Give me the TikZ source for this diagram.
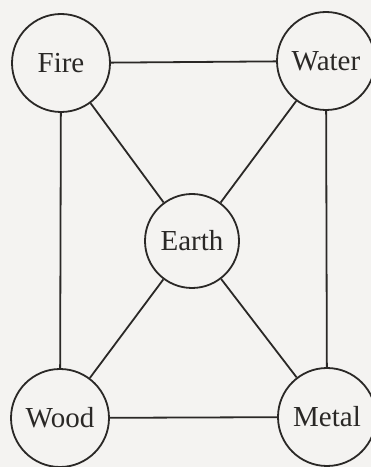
\documentclass[tikz,border=0pt]{standalone}
\usepackage{fontspec}
\setmainfont{Liberation Serif}
\newfontfamily\elfont{Liberation Serif}
\definecolor{bg}{HTML}{F4F3F1}
\definecolor{ink}{HTML}{2A2826}
\begin{document}
\begin{tikzpicture}[x=1pt,y=1pt,
  el/.style={circle, draw=ink, fill=bg, line width=1.8pt, minimum size=98pt, inner sep=0pt,
    font=\fontsize{29}{32}\selectfont\elfont, text=ink},
  link/.style={draw=ink, line width=1.8pt}]
\useasboundingbox (0,0) rectangle (371,467);
\clip (0,0) rectangle (371,467);
\fill[bg] (0,0) rectangle (371,467);
\node[el] (fire)  at (61,404) {Fire};
\node[el] (water) at (326,406) {Water};
\node[el, minimum size=94pt] (earth) at (192,226) {Earth};
\node[el] (wood)  at (60,49) {Wood};
\node[el] (metal) at (327,50) {Metal};
\draw[link] (fire) -- (water);
\draw[link] (fire) -- (wood);
\draw[link] (water) -- (metal);
\draw[link] (wood) -- (metal);
\draw[link] (fire) -- (earth);
\draw[link] (water) -- (earth);
\draw[link] (wood) -- (earth);
\draw[link] (metal) -- (earth);
\end{tikzpicture}
\end{document}
